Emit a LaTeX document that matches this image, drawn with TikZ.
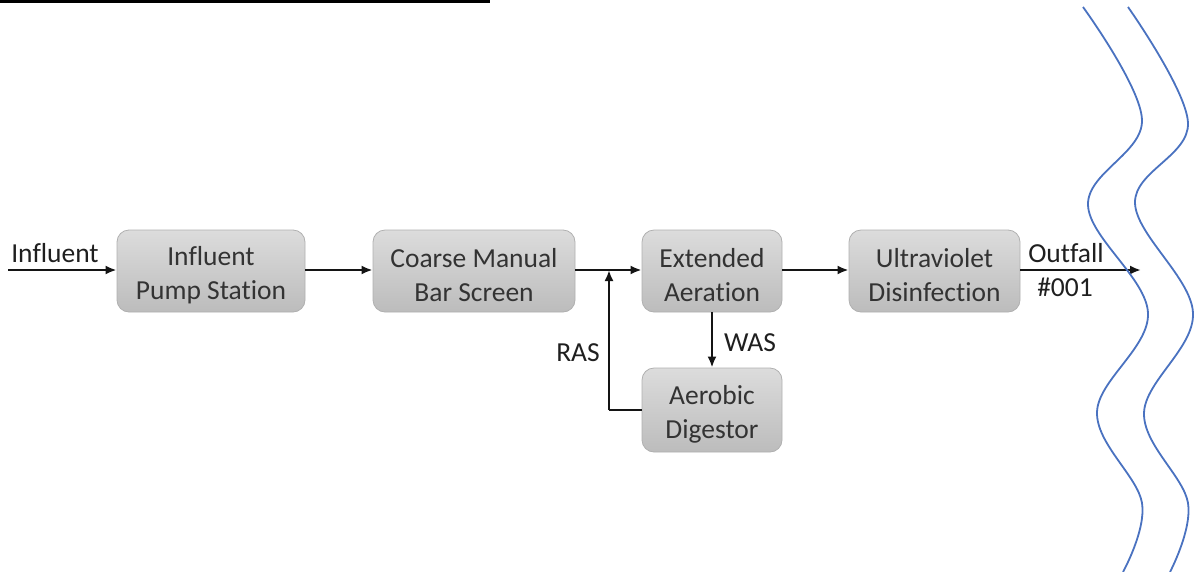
\documentclass[tikz,border=0pt]{standalone}
\usepackage{fontspec}
\setmainfont{Carlito}[Ligatures=NoCommon]
\usetikzlibrary{arrows.meta}
\definecolor{boxtop}{HTML}{DCDCDC}
\definecolor{boxbot}{HTML}{BCBCBC}
\definecolor{boxline}{HTML}{B0B0B0}
\definecolor{txt}{HTML}{333333}
\definecolor{river}{HTML}{4A72C0}
\newcommand{\boxstrut}{\rule{0pt}{27pt}}
\tikzset{
  procbox/.style={draw=boxline, line width=0.8pt, rounded corners=12pt,
    top color=boxtop, bottom color=boxbot, text=txt, align=center,
    font=\fontsize{27.5}{34}\selectfont, inner sep=0pt},
  flow/.style={line width=2.2pt, draw=black!92, -{Latex[length=11pt,width=9pt]}},
  plainline/.style={line width=2.2pt, draw=black!92},
  lbl/.style={font=\fontsize{27.5}{34}\selectfont, text=black!88, inner sep=0pt, anchor=base},
  wave/.style={draw=river, line width=1.8pt}
}
\begin{document}
\begin{tikzpicture}[x=1pt,y=-1pt]
\useasboundingbox (0,0) rectangle (1194,571);
\fill[black] (0,0) rectangle (490,3.3);

\node[procbox, minimum width=188pt, minimum height=82pt] (ips) at (211,271) {\boxstrut Influent\\Pump Station};
\node[procbox, minimum width=202pt, minimum height=82pt] (cmb) at (474,271) {\boxstrut Coarse Manual\\Bar Screen};
\node[procbox, minimum width=140pt, minimum height=82pt] (ext) at (712,271) {\boxstrut Extended\\Aeration};
\node[procbox, minimum width=171pt, minimum height=82pt] (uvd) at (934.5,271) {\boxstrut Ultraviolet\\Disinfection};
\node[procbox, minimum width=140pt, minimum height=84pt] (aer) at (712,410) {\boxstrut Aerobic\\Digestor};

\coordinate (inStart) at (8,270);
\coordinate (junc) at (609,270);
\coordinate (rasCorner) at (609,410);
\coordinate (outEnd) at (1141,270);

\draw[flow] (inStart) -- (ips.west |- inStart);
\draw[flow] (ips.east |- inStart) -- (cmb.west |- inStart);
\draw[flow] (cmb.east |- inStart) -- (ext.west |- inStart);
\draw[plainline] (aer.west) -- (rasCorner);
\draw[flow] (rasCorner) -- (junc);
\draw[flow] (ext.south) -- (aer.north);
\draw[flow] (ext.east |- inStart) -- (uvd.west |- inStart);
\draw[flow] (uvd.east |- inStart) -- (outEnd);

\node[lbl] (linf) at (55,262) {Influent};
\node[lbl] (lras) at (578,361) {RAS};
\node[lbl] (lwas) at (750,351) {WAS};
\node[lbl] (lout) at (1066,262) {Outfall};
\node[lbl] (l001) at (1065,296) {\#001};

\draw[wave] plot[smooth, tension=0.6] coordinates {(1083,7) (1142,120) (1088,205) (1148,313) (1097,412) (1142,503) (1123,572)};
\draw[wave] plot[smooth, tension=0.6] coordinates {(1128,7) (1188,123) (1135,203) (1193,313) (1144,413) (1188,503) (1170,572)};
\end{tikzpicture}
\end{document}
